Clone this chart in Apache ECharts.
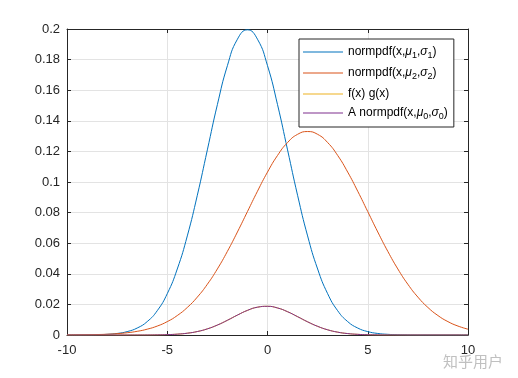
<!DOCTYPE html>
<html>
<head>
<meta charset="utf-8">
<script src="https://cdn.jsdelivr.net/npm/echarts@6/dist/echarts.min.js"></script>
<style>html,body{margin:0;padding:0;background:#fff;}#c{width:518px;height:378px;}</style>
</head>
<body>
<div id="c"></div>
<script>
var xs = [-10,-9.5,-9,-8.5,-8,-7.5,-7,-6.5,-6,-5.5,-5,-4.5,-4,-3.5,-3,-2.5,-2,-1.5,-1,-0.5,0,0.5,1,1.5,2,2.5,3,3.5,4,4.5,5,5.5,6,6.5,7,7.5,8,8.5,9,9.5,10];
var f1 = [0.00001,0.00002,0.00007,0.00018,0.00044,0.00101,0.00222,0.00455,0.00876,0.01587,0.02700,0.04314,0.06476,0.09132,0.12099,0.15057,0.17603,0.19333,0.19947,0.19333,0.17603,0.15057,0.12099,0.09132,0.06476,0.04314,0.02700,0.01587,0.00876,0.00455,0.00222,0.00101,0.00044,0.00018,0.00007,0.00002,0.00001,0,0,0,0];
var f2 = [0.00004,0.00009,0.00016,0.00029,0.00051,0.00088,0.00148,0.00240,0.00380,0.00584,0.00874,0.01272,0.01800,0.02477,0.03316,0.04317,0.05467,0.06734,0.08066,0.09397,0.10648,0.11736,0.12579,0.13115,0.13298,0.13115,0.12579,0.11736,0.10648,0.09397,0.08066,0.06734,0.05467,0.04317,0.03316,0.02477,0.01800,0.01272,0.00874,0.00584,0.00380];
var fg = [0,0,0,0,0,0,0,0.00001,0.00003,0.00009,0.00024,0.00055,0.00117,0.00226,0.00401,0.00650,0.00962,0.01302,0.01609,0.01817,0.01875,0.01767,0.01522,0.01198,0.00861,0.00566,0.00340,0.00186,0.00093,0.00043,0.00018,0.00007,0.00002,0.00001,0,0,0,0,0,0,0];
var aNorm = [0,0,0,0,0,0,0,0.00001,0.00003,0.00009,0.00024,0.00055,0.00117,0.00226,0.00401,0.00650,0.00962,0.01302,0.01609,0.01817,0.01875,0.01767,0.01522,0.01198,0.00861,0.00566,0.00340,0.00186,0.00093,0.00043,0.00018,0.00007,0.00002,0.00001,0,0,0,0,0,0,0];
var names = ['normpdf(x,μ1,σ1)','normpdf(x,μ2,σ2)','f(x) g(x)','A normpdf(x,μ0,σ0)'];
var legendRich = {
  'normpdf(x,μ1,σ1)': '{t|normpdf(x,}{g|μ}{s|1}{t|,}{g|σ}{s|1}{t|)}',
  'normpdf(x,μ2,σ2)': '{t|normpdf(x,}{g|μ}{s|2}{t|,}{g|σ}{s|2}{t|)}',
  'f(x) g(x)': '{t|f(x) g(x)}',
  'A normpdf(x,μ0,σ0)': '{t|A normpdf(x,}{g|μ}{s|0}{t|,}{g|σ}{s|0}{t|)}'
};
var colors = ['#0072BD','#D95319','#EDB120','#7E2F8E'];
var xTicks = [-10,-5,0,5,10];
var yMax = 0.2, yStep = 0.02;

function pairs(ys){ return xs.map(function(x,i){ return [x, ys[i]]; }); }

var chart = echarts.init(document.getElementById('c'), null, {renderer:'canvas'});
var font = 'Liberation Sans, Arial, Helvetica, sans-serif';
function axisCommon(){
  return {
    axisLine:{show:true, onZero:false, lineStyle:{color:'#262626', width:1}},
    axisTick:{show:true, inside:true, length:4, lineStyle:{color:'#262626'}}
  };
}
function mkSeries(name, ys, color){
  return {name:name, type:'line', data:pairs(ys), smooth:true, showSymbol:false, symbol:'none',
    lineStyle:{color:color, width:1}, itemStyle:{color:color}, animation:false, xAxisIndex:0, yAxisIndex:0};
}
chart.setOption({
  animation:false,
  backgroundColor:'#fff',
  grid:{left:67, top:29, width:401, height:306, show:false},
  xAxis:[
    Object.assign({type:'value', min:xTicks[0], max:xTicks[xTicks.length-1], interval:5, position:'bottom',
      axisLabel:{color:'#262626', fontSize:13, fontFamily:font, margin:9},
      splitLine:{show:true, lineStyle:{color:'#e3e3e3', width:1}}}, axisCommon()),
    Object.assign({type:'value', min:xTicks[0], max:xTicks[xTicks.length-1], interval:5, position:'top',
      axisLabel:{show:false}, splitLine:{show:false}}, axisCommon())
  ],
  yAxis:[
    Object.assign({type:'value', min:0, max:yMax, interval:yStep, position:'left',
      axisLabel:{color:'#262626', fontSize:13, fontFamily:font, margin:7},
      splitLine:{show:true, lineStyle:{color:'#e3e3e3', width:1}}}, axisCommon()),
    Object.assign({type:'value', min:0, max:yMax, interval:yStep, position:'right',
      axisLabel:{show:false}, splitLine:{show:false}}, axisCommon())
  ],
  legend:{
    orient:'vertical', left:299, top:39, width:162,
    data:names.map(function(n){ return {name:n, icon:'rect'}; }),
    itemWidth:40, itemHeight:1, itemGap:7,
    backgroundColor:'#fff', borderColor:'#262626', borderWidth:1,
    padding:[7,6,6,4],
    formatter:function(n){ return legendRich[n]; },
    textStyle:{fontFamily:font, fontSize:12, color:'#000',
      rich:{
        t:{fontSize:12, fontFamily:font, color:'#000'},
        g:{fontSize:12, fontFamily:font, fontStyle:'italic', color:'#000'},
        s:{fontSize:9, fontFamily:font, color:'#000', padding:[7,0,0,0]}
      }}
  },
  graphic:[{type:'text', left:443, top:354, style:{text:'知乎用户', font:'15px "Noto Sans CJK SC"', fill:'#c0c0c0'}}],
  series:[
    mkSeries(names[0], f1, colors[0]),
    mkSeries(names[1], f2, colors[1]),
    mkSeries(names[2], fg, colors[2]),
    mkSeries(names[3], aNorm, colors[3])
  ]
});
</script>
</body>
</html>
